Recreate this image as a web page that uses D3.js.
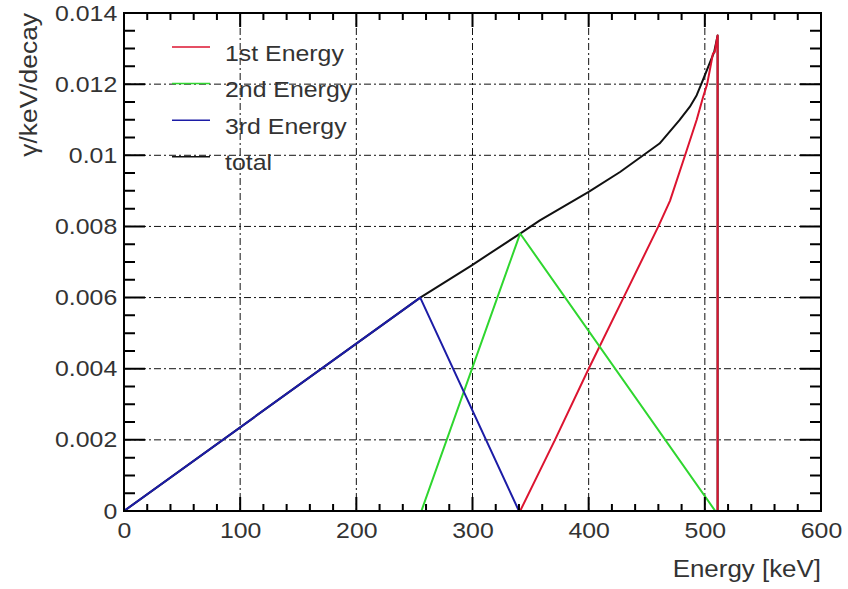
<!DOCTYPE html>
<html lang="en">
<head>
  <meta charset="UTF-8">
  <title>Energy spectrum</title>
  <script src="https://d3js.org/d3.v7.min.js"></script>
  <style>
    body { margin: 0; background: #fff; }
    svg { display: block; }
    text { font-family: "Liberation Sans", Arial, Helvetica, sans-serif; fill: #333; }
  </style>
</head>
<body>
<div class="main"></div>
<script>
  // values (energy in keV, y in gamma/keV/decay)
  const firstE  = [0, 341, 371, 400, 430, 460, 470, 483, 493, 498.5, 502, 507, 508.5, 511, 511, 600];
  const firstV  = [0, 0, 0.002, 0.004, 0.006, 0.0080, 0.00872, 0.0100, 0.0110, 0.01164, 0.0120, 0.01286, 0.0129, 0.01337, 0, 0];
  const secondE = [0, 256, 341, 509, 600];
  const secondV = [0, 0, 0.0078, 0, 0];
  const thirdE  = [0, 255, 340, 600];
  const thirdV  = [0, 0.0060, 0, 0];
  const totalE  = [0, 255, 299, 341, 358, 400, 427, 447, 461, 478, 487, 493, 497, 500, 504, 508, 511, 511, 600];
  const totalV  = [0, 0.0060, 0.0069, 0.0078, 0.00817, 0.00897, 0.00953, 0.0100, 0.01033, 0.01098, 0.01136, 0.01169, 0.01201, 0.01225, 0.01258, 0.0129, 0.01337, 0, 0];

  const legendNames = ["1st Energy", "2nd Energy", "3rd Energy", "total"];
  const xMajor = [0, 100, 200, 300, 400, 500, 600];
  const yMajor = [0, 0.002, 0.004, 0.006, 0.008, 0.01, 0.012, 0.014];

  const width = 848, height = 589;
  const padL = 124, padR = 821, padT = 13, padB = 511;
  const sx = 1.13; // the fonts in the picture are a bit wide

  const svg = d3.select(".main").append("svg").attr("width", width).attr("height", height);
  svg.append("rect").attr("width", width).attr("height", height).style("fill", "#fff");

  const x = d3.scaleLinear().domain([0, 600]).range([padL, padR]);
  const y = d3.scaleLinear().domain([0, 0.014]).range([padB, padT]);

  const xMinor = d3.range(0, 601, 20).filter(d => d % 100 !== 0);
  const yMinor = d3.range(0, 29).map(i => i * 0.0005).filter(d => Math.abs(d / 0.002 - Math.round(d / 0.002)) > 1e-6);

  // grid
  const grid = svg.append("g").style("stroke", "#111").style("stroke-width", 1).style("stroke-dasharray", "7,3,2,3");
  grid.selectAll(".gx").data(xMajor.slice(1, -1)).enter().append("line")
    .attr("x1", d => x(d)).attr("x2", d => x(d)).attr("y1", padT).attr("y2", padB);
  grid.selectAll(".gy").data(yMajor.slice(1, -1)).enter().append("line")
    .attr("x1", padL).attr("x2", padR).attr("y1", d => y(d)).attr("y2", d => y(d));

  // series: total first, then 1st, 2nd, 3rd on top
  const line = d3.line().x(d => x(d[0])).y(d => y(d[1]));
  const series = [
    {E: totalE, V: totalV, color: "#111111"},
    {E: firstE, V: firstV, color: "#dc1430"},
    {E: secondE, V: secondV, color: "#2fd62f"},
    {E: thirdE, V: thirdV, color: "#1c1ca6"}
  ];
  series.forEach(s => {
    svg.append("path").datum(d3.zip(s.E, s.V)).attr("d", line)
      .style("fill", "none").style("stroke", s.color).style("stroke-width", 2).style("stroke-linejoin", "round");
  });

  // tick marks, pointing inward on all four sides
  const xTicks = xMajor.map(d => [d, 14]).concat(xMinor.map(d => [d, 7]));
  const yTicks = yMajor.map(d => [d, 21]).concat(yMinor.map(d => [d, 11]));
  let tickPath = "";
  xTicks.forEach(d => {
    tickPath += `M${x(d[0])},${padB}V${padB - d[1]}M${x(d[0])},${padT}V${padT + d[1]}`;
  });
  yTicks.forEach(d => {
    tickPath += `M${padL},${y(d[0])}H${padL + d[1]}M${padR},${y(d[0])}H${padR - d[1]}`;
  });
  svg.append("path").attr("d", tickPath).attr("fill", "none").attr("stroke", "#000").attr("stroke-width", 2);

  // tick labels through d3 axes (their own lines hidden)
  const fmtY = d => d === 0 ? "0" : String(+d.toFixed(3));
  const bx = svg.append("g").attr("transform", `translate(0,${padB})`)
    .call(d3.axisBottom(x).tickValues(xMajor).tickSize(0).tickPadding(11).tickFormat(d3.format("d")));
  const ly = svg.append("g").attr("transform", `translate(${padL},0)`)
    .call(d3.axisLeft(y).tickValues(yMajor).tickSize(0).tickPadding(6).tickFormat(fmtY));
  [bx, ly].forEach(g => { g.select(".domain").remove(); g.selectAll("line").remove(); });
  svg.selectAll(".tick text").style("font-size", "22px").style("fill", "#333")
    .attr("transform", `scale(${sx},1)`);

  // frame
  svg.append("rect").attr("x", padL).attr("y", padT).attr("width", padR - padL).attr("height", padB - padT)
    .style("fill", "none").style("stroke", "#000").style("stroke-width", 2);

  // axis titles
  svg.append("text").attr("transform", `translate(${padR},577) scale(1.08,1)`)
    .attr("text-anchor", "end").style("font-size", "24px").text("Energy [keV]");
  svg.append("text").attr("transform", `translate(37,${padT}) rotate(-90) scale(1.1,1)`)
    .attr("text-anchor", "end").style("font-size", "24px").text("γ/keV/decay");

  // legend
  const legendColors = ["#dc1430", "#2fd62f", "#1c1ca6", "#111111"];
  legendNames.forEach((name, i) => {
    const ly0 = 47 + i * 36.6;
    svg.append("line").attr("x1", 172).attr("x2", 210).attr("y1", ly0).attr("y2", ly0)
      .style("stroke", legendColors[i]).style("stroke-width", 1.5);
    svg.append("text").attr("transform", `translate(225,${ly0 + 13.5}) scale(${sx},1)`)
      .style("font-size", "22px").text(name);
  });
</script>
</body>
</html>
